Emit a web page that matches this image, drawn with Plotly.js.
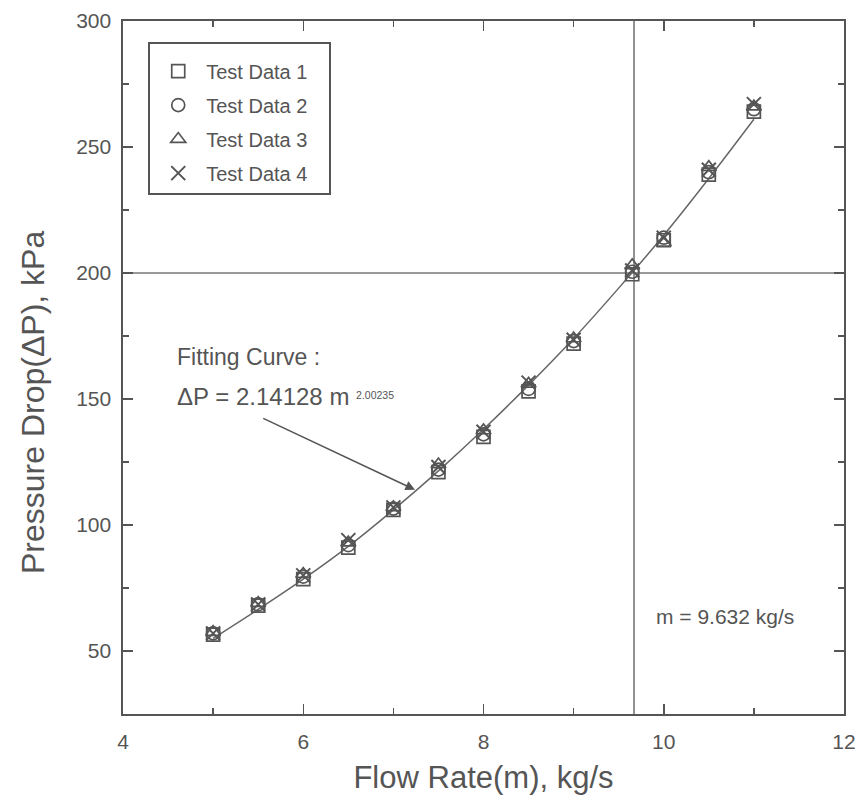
<!DOCTYPE html>
<html>
<head>
<meta charset="utf-8">
<script src="https://cdn.plot.ly/plotly-3.0.1.min.js"></script>
<style>html,body{margin:0;padding:0;background:#fff;}#chart{width:864px;height:803px;}</style>
</head>
<body>
<div id="chart"></div>
<script>
// Data
const flowRate = [5, 5.5, 6, 6.5, 7, 7.5, 8, 8.5, 9, 9.65, 10, 10.5, 11];
const test1 = [56.5, 68, 78.5, 91, 106, 121, 135, 153, 172, 199.5, 213, 239, 264];
const test2 = [57, 68.5, 79.5, 92, 106.5, 122, 136, 154, 173, 200.5, 214, 240, 265];
const test3 = [57.5, 69, 80.5, 93, 107, 124, 137.5, 156, 174, 203, 212, 242, 266];
const test4 = [57, 68.5, 80, 94, 107, 123, 137, 156.5, 173.5, 201, 214, 241, 267];
const fitX = [5, 5.5, 6, 6.5, 7, 7.5, 8, 8.5, 9, 9.5, 10, 10.5, 11];
const fitY = [55, 66.5, 78.5, 91.5, 106, 121.5, 138, 155.5, 174, 194, 215, 237.5, 261];
const seriesNames = ["Test Data 1", "Test Data 2", "Test Data 3", "Test Data 4"];
const markerSymbols = ["square-open", "circle-open", "triangle-up-open", "x-thin-open"];
const markRateLabel = "9.632";
const markRateLine = 9.67;
const markDrop = 200;

const ink = "#555555";
const font = "Liberation Sans, Arial, sans-serif";
const allTests = [test1, test2, test3, test4];
const pad = "\u00A0\u00A0\u00A0";

const traces = [{
  x: fitX, y: fitY, mode: "lines", type: "scatter",
  line: {color: "#666", width: 1.5, shape: "spline"},
  showlegend: false, hoverinfo: "skip"
}];
allTests.forEach((vals, i) => {
  traces.push({
    x: flowRate, y: vals, type: "scatter", mode: "markers",
    name: seriesNames[i] + pad, legendgroup: "g" + i,
    marker: {
      symbol: markerSymbols[i], size: i === 3 ? 14 : 13, color: ink,
      line: {color: ink, width: i === 3 ? 2 : 1.7}
    }
  });
});

const axisBase = {
  showline: true, linecolor: ink, linewidth: 1.6, mirror: "ticks",
  ticks: "inside", ticklen: 10, tickwidth: 1.5, tickcolor: ink,
  showgrid: false, zeroline: false,
  tickfont: {family: font, size: 21, color: ink},
  minor: {ticks: "inside", ticklen: 6, tickwidth: 1.3, tickcolor: ink, showgrid: false}
};

const layout = {
  width: 864, height: 803,
  margin: {l: 123, r: 20, t: 21, b: 89},
  paper_bgcolor: "#fff", plot_bgcolor: "#fff",
  font: {family: font, color: ink},
  xaxis: Object.assign({}, axisBase, {
    range: [4, 12], dtick: 2, tick0: 4,
    minor: Object.assign({}, axisBase.minor, {dtick: 1}),
    ticklabelstandoff: 8,
    title: {text: "Flow Rate(m), kg/s", font: {family: font, size: 31, color: ink}, standoff: 14}
  }),
  yaxis: Object.assign({}, axisBase, {
    range: [25, 300], dtick: 50, tick0: 0,
    minor: Object.assign({}, axisBase.minor, {dtick: 25}),
    ticklabelstandoff: 6
  }),
  legend: {
    x: 0.035, y: 0.97, xanchor: "left", yanchor: "top",
    bgcolor: "#fff", bordercolor: ink, borderwidth: 2,
    font: {family: font, size: 20, color: ink},
    title: {text: " ", font: {size: 6}},
    tracegroupgap: 5, itemwidth: 46
  },
  shapes: [
    {type: "line", xref: "x", yref: "paper", x0: markRateLine, x1: markRateLine, y0: 0, y1: 1,
     line: {color: "#777", width: 1.6}, layer: "below"},
    {type: "line", xref: "paper", yref: "y", x0: 0, x1: 1, y0: markDrop, y1: markDrop,
     line: {color: "#777", width: 1.6}, layer: "below"}
  ],
  annotations: [
    {x: -0.125, y: 0.45, xref: "paper", yref: "paper", xanchor: "center", yanchor: "middle",
     textangle: -90, text: "Pressure Drop(ΔP), kPa", showarrow: false,
     font: {family: font, size: 32, color: ink}},
    {x: 4.577, y: 166.5, xref: "x", yref: "y", xanchor: "left", yanchor: "middle",
     text: "Fitting Curve :", showarrow: false, font: {family: font, size: 23, color: ink}},
    {x: 4.577, y: 151, xref: "x", yref: "y", xanchor: "left", yanchor: "middle",
     text: "ΔP = 2.14128 m <span style='font-size:15px;fill:#555555'><sup>2.00235</sup></span>", showarrow: false,
     font: {family: font, size: 24, color: ink}},
    {x: 7.24, y: 114, xref: "x", yref: "y", ax: 5.54, ay: 142.6, axref: "x", ayref: "y",
     text: "", showarrow: true, arrowhead: 2, arrowsize: 1.2, arrowwidth: 1.6, arrowcolor: ink},
    {x: 10.68, y: 63.6, xref: "x", yref: "y", xanchor: "center", yanchor: "middle",
     text: "m = " + markRateLabel + " kg/s", showarrow: false, font: {family: font, size: 21, color: ink}}
  ]
};

Plotly.newPlot("chart", traces, layout, {displayModeBar: false, staticPlot: true});
</script>
</body>
</html>
